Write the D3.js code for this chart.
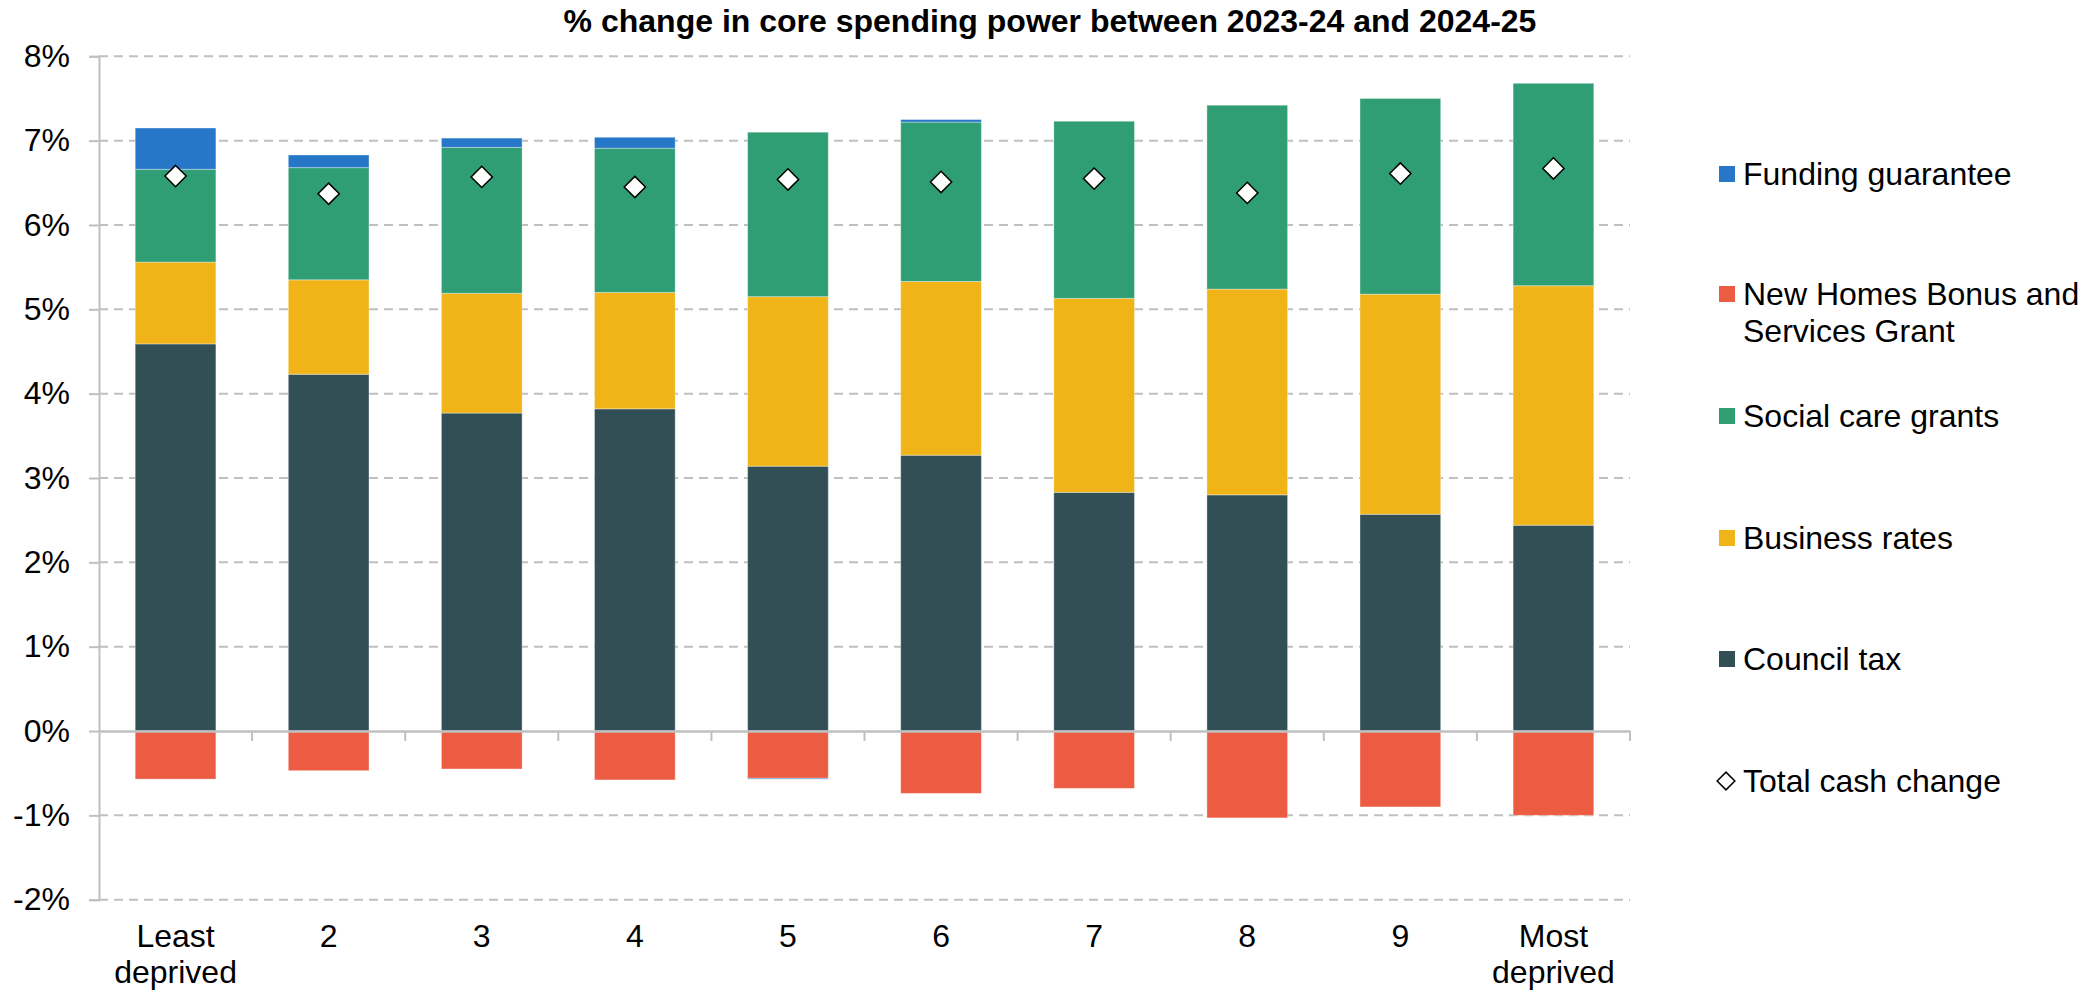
<!DOCTYPE html>
<html>
<head>
<meta charset="utf-8">
<script src="https://cdn.jsdelivr.net/npm/d3@7"></script>
<style>
  html, body { margin: 0; padding: 0; background: #ffffff; }
  svg { display: block; }
  text { font-family: "Liberation Sans", Arial, sans-serif; fill: #000; }
</style>
</head>
<body>
<svg id="chart" width="2097" height="992"></svg>
<script>
// Deprivation deciles (least to most deprived)
const categories = ["Least deprived", "2", "3", "4", "5", "6", "7", "8", "9", "Most deprived"];

// Contributions to % change in core spending power, 2023-24 to 2024-25
const councilTax       = [4.59, 4.23, 3.77, 3.82, 3.14, 3.27, 2.83, 2.80, 2.57, 2.44];
const businessRates    = [0.97, 1.12, 1.42, 1.38, 2.01, 2.06, 2.30, 2.44, 2.61, 2.84];
const socialCareGrants = [1.10, 1.33, 1.73, 1.71, 1.95, 1.89, 2.10, 2.18, 2.32, 2.40];
const fundingGuarantee = [0.49, 0.15, 0.11, 0.13, -0.01, 0.03, 0.00, 0.00, 0.00, 0.00];
const newHomesBonus    = [-0.57, -0.47, -0.45, -0.58, -0.56, -0.74, -0.68, -1.03, -0.90, -1.00];
const totalCashChange  = [6.58, 6.37, 6.57, 6.45, 6.54, 6.51, 6.55, 6.38, 6.61, 6.67];

const yTicks = [-2, -1, 0, 1, 2, 3, 4, 5, 6, 7, 8];

const seriesNames = ["Council tax", "Business rates", "Social care grants",
                     "New Homes Bonus and Services Grant", "Funding guarantee"];
const seriesValues = [councilTax, businessRates, socialCareGrants, newHomesBonus, fundingGuarantee];
const seriesColors = ["#324f56", "#f0b419", "#2f9e74", "#ec5c42", "#2677c8"];

// Legend order, top to bottom
const legendItems = [
  { name: "Funding guarantee", lines: ["Funding guarantee"], color: "#2677c8" },
  { name: "New Homes Bonus and Services Grant", lines: ["New Homes Bonus and", "Services Grant"], color: "#ec5c42" },
  { name: "Social care grants", lines: ["Social care grants"], color: "#2f9e74" },
  { name: "Business rates", lines: ["Business rates"], color: "#f0b419" },
  { name: "Council tax", lines: ["Council tax"], color: "#324f56" },
  { name: "Total cash change", lines: ["Total cash change"], marker: "diamond" }
];

const svg = d3.select("#chart");
const plotLeft = 99, plotRight = 1630, plotTop = 56.3, plotBottom = 899.7;
const fontSize = 32;

const x = d3.scaleBand()
  .domain(categories)
  .range([plotLeft, plotRight])
  .paddingInner(0.473)
  .paddingOuter(0.2365);

const y = d3.scaleLinear().domain([-2, 8]).range([plotBottom, plotTop]);

// Table for stacking
const rows = categories.map((c, i) => {
  const r = { category: c };
  seriesNames.forEach((n, k) => { r[n] = seriesValues[k][i]; });
  return r;
});
const stacked = d3.stack().keys(seriesNames).offset(d3.stackOffsetDiverging)(rows);
const color = d3.scaleOrdinal().domain(seriesNames).range(seriesColors);

// Title
svg.append("text")
  .attr("x", 1050)
  .attr("y", 32)
  .attr("text-anchor", "middle")
  .style("font-size", fontSize + "px")
  .style("font-weight", "bold")
  .text("% change in core spending power between 2023-24 and 2024-25");

// Dashed horizontal gridlines
svg.append("g")
  .selectAll("line")
  .data(yTicks.filter(t => t !== 0))
  .join("line")
  .attr("x1", plotLeft)
  .attr("x2", plotRight)
  .attr("y1", d => y(d))
  .attr("y2", d => y(d))
  .attr("stroke", "#c0c0c0")
  .attr("stroke-width", 2)
  .attr("stroke-dasharray", "9,6");

// Stacked bars
svg.append("g")
  .selectAll("g")
  .data(stacked)
  .join("g")
  .attr("fill", d => color(d.key))
  .selectAll("rect")
  .data(d => d)
  .join("rect")
  .attr("x", d => x(d.data.category))
  .attr("width", x.bandwidth())
  .attr("y", d => y(Math.max(d[0], d[1])))
  .attr("height", d => Math.abs(y(d[0]) - y(d[1])))
  .attr("stroke", "rgba(255,255,255,0.35)")
  .attr("stroke-width", 1);

// Y axis
const yAxis = svg.append("g")
  .attr("transform", `translate(${plotLeft},0)`)
  .call(d3.axisLeft(y).tickValues(yTicks).tickFormat(d => d + "%").tickSize(10).tickPadding(19));
yAxis.select(".domain").attr("stroke", "#c0c0c0").attr("stroke-width", 2);
yAxis.selectAll(".tick line").attr("stroke", "#c0c0c0").attr("stroke-width", 2);
yAxis.selectAll(".tick text")
  .style("font-size", fontSize + "px")
  .style("font-family", "'Liberation Sans', Arial, sans-serif")
  .attr("fill", "#000");

// X axis along zero
const zeroY = y(0);
const xAxis = svg.append("g")
  .attr("transform", `translate(0,${zeroY})`)
  .call(d3.axisBottom(x).tickSize(0).tickPadding(0));
xAxis.select(".domain").attr("stroke", "#c0c0c0").attr("stroke-width", 2.5);
xAxis.selectAll(".tick text").remove();

// Tick marks at category boundaries
const gap = x.step() * x.paddingInner() / 2;
const boundaries = categories.map(c => x(c) + x.bandwidth() + gap);
xAxis.append("g")
  .selectAll("line")
  .data(boundaries)
  .join("line")
  .attr("x1", d => d)
  .attr("x2", d => d)
  .attr("y1", 0)
  .attr("y2", 10)
  .attr("stroke", "#c0c0c0")
  .attr("stroke-width", 2);

// Category labels (wrapped onto two lines where needed)
const labelBaseline = 947;
svg.append("g")
  .selectAll("text")
  .data(categories)
  .join("text")
  .attr("text-anchor", "middle")
  .style("font-size", fontSize + "px")
  .each(function (c) {
    const words = c.split(" ");
    const t = d3.select(this);
    words.forEach((w, k) => {
      t.append("tspan")
        .attr("x", x(c) + x.bandwidth() / 2)
        .attr("y", labelBaseline + k * 36)
        .text(w);
    });
  });

// Total cash change markers
const diamond = d3.symbol().type(d3.symbolDiamond2);
svg.append("g")
  .selectAll("path")
  .data(totalCashChange)
  .join("path")
  .attr("transform", (d, i) => `translate(${x(categories[i]) + x.bandwidth() / 2},${y(d)})`)
  .attr("d", diamond.size(24 * 24 / 2)())
  .attr("fill", "#ffffff")
  .attr("stroke", "#000")
  .attr("stroke-width", 1.5);

// Legend
const legendY = [174, 294, 416, 538, 659, 781];
const legend = svg.append("g");
legendItems.forEach((item, i) => {
  const cy = legendY[i];
  if (item.marker === "diamond") {
    legend.append("path")
      .attr("transform", `translate(1726,${cy})`)
      .attr("d", d3.symbol().type(d3.symbolDiamond2).size(20 * 20 / 2)())
      .attr("fill", "#fff")
      .attr("stroke", "#000")
      .attr("stroke-width", 1.5);
  } else {
    legend.append("rect")
      .attr("x", 1719)
      .attr("y", cy - 8)
      .attr("width", 16)
      .attr("height", 16)
      .attr("fill", item.color);
  }
  const t = legend.append("text")
    .style("font-size", fontSize + "px");
  item.lines.forEach((line, k) => {
    t.append("tspan")
      .attr("x", 1743)
      .attr("y", cy + k * 37)
      .attr("dy", "0.35em")
      .text(line);
  });
});
</script>
</body>
</html>
